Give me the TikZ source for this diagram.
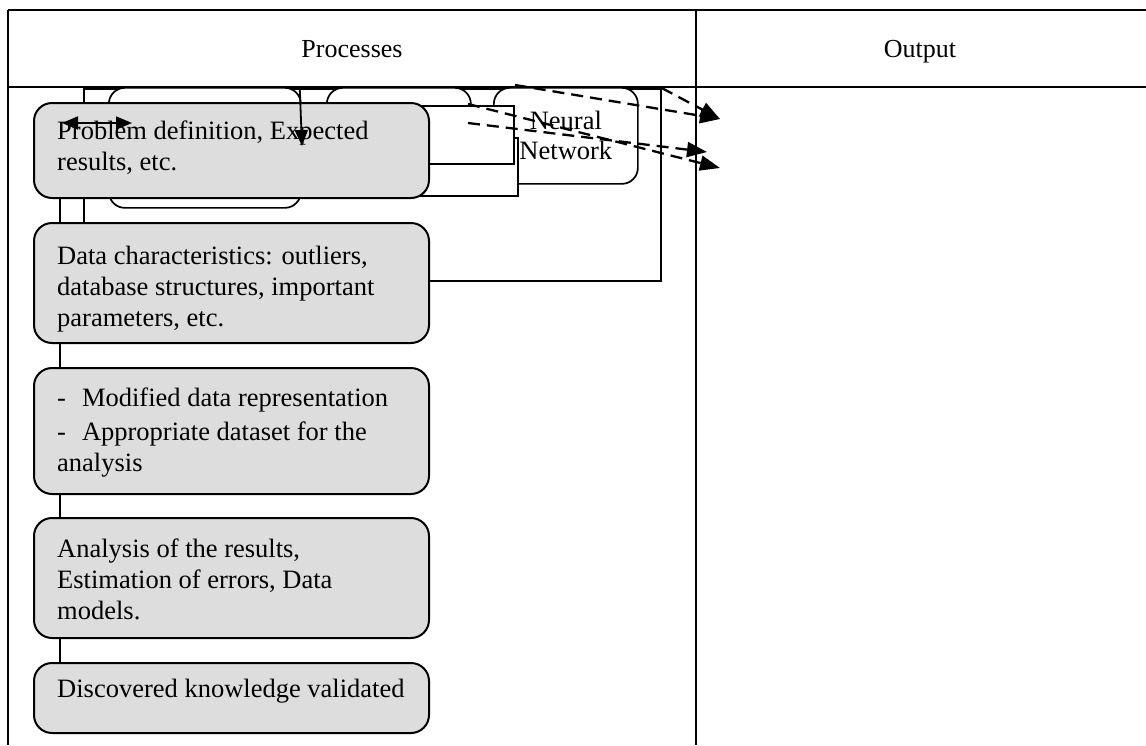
\documentclass[tikz,border=0pt]{standalone}
\usepackage{fontspec}
\setmainfont{Liberation Serif}
\usetikzlibrary{arrows.meta}
\definecolor{boxgray}{RGB}{221,221,221}
\begin{document}
\begin{tikzpicture}[x=1pt,y=-1pt,
  grid/.style={line width=2pt},
  gbox/.style={draw, line width=2pt, fill=boxgray, rounded corners=18pt, inner sep=0pt, anchor=north west},
  wbox/.style={draw, line width=1.7pt, fill=white, rounded corners=16pt, inner sep=0pt, anchor=north west},
  wrect/.style={draw, line width=1.7pt, fill=white, inner sep=0pt, anchor=north west},
  txt/.style={font=\fontsize{26.5}{31}\selectfont, inner sep=0pt, align=left},
  head/.style={font=\fontsize{26}{30}\selectfont, inner sep=0pt, anchor=base},
  link/.style={line width=1.3pt},
  dasharrow/.style={line width=2.3pt, dash pattern=on 12pt off 7pt, -{Triangle[length=20pt,width=15pt]}},
  solidarrow/.style={line width=1.8pt},
]
\useasboundingbox (0,0) rectangle (1146,745);
% table
\draw[grid] (8,10) -- (1146,10);
\draw[grid] (8,87) -- (1146,87);
\draw[grid] (8,10) -- (8,745);
\draw[grid] (696,10) -- (696,745);
\node[head] (hp) at (352,57) {Processes};
\node[head] (ho) at (920,57) {Output};
% background frame
\node[draw, line width=1.7pt, inner sep=0pt, anchor=north west, minimum width=577pt, minimum height=192pt] (frame) at (83,88) {};
% white boxes behind
\node[wbox, minimum width=192pt, minimum height=120pt] (ba) at (108,87) {};
\node[wbox, minimum width=144pt, minimum height=103pt] (bb) at (326,87) {};
\node[wbox, minimum width=144pt, minimum height=96pt, align=center, font=\fontsize{26.5}{30}\selectfont] (nn) at (493,87) {Neural\\Network};
\node[wrect, minimum width=117pt, minimum height=58pt] (rd) at (400,137) {};
\node[wrect, minimum width=113pt, minimum height=58pt] (rc) at (400,105) {};
% dashed arrows
\coordinate (s1) at (515,85);
\coordinate (s3) at (468,123);
\coordinate (s4) at (468,104);
\coordinate (o1) at (720,119);
\coordinate (o2) at (707,152);
\coordinate (o3) at (720,168);
\draw[dasharrow] (s1) -- (o1);
\draw[dasharrow] (frame.north east) -- (o1);
\draw[dasharrow] (s3) -- (o2);
\draw[dasharrow] (s4) -- (o3);
% gray process boxes
\node[gbox, minimum width=395pt, minimum height=95pt] (b1) at (33,102) {};
\node[gbox, minimum width=395pt, minimum height=120pt] (b2) at (33,222) {};
\node[gbox, minimum width=395pt, minimum height=126pt] (b3) at (33,367) {};
\node[gbox, minimum width=395pt, minimum height=120pt] (b4) at (33,517) {};
\node[gbox, minimum width=395pt, minimum height=70pt] (b5) at (33,662) {};
\node[txt, anchor=base west] (t1) at (57,170) {Problem definition, Expected\\results, etc.};
\node[txt, anchor=base west] (t2) at (57,326) {Data characteristics: outliers,\\database structures, important\\parameters, etc.};
\node[txt, anchor=base west] (t3) at (57,471) {-\hspace{16pt}Modified data representation\\[2.6pt]-\hspace{16pt}Appropriate dataset for the\\analysis};
\node[txt, anchor=base west] (t4) at (57,619) {Analysis of the results,\\Estimation of errors, Data\\models.};
\node[txt, anchor=base west] (t5) at (57,697) {Discovered knowledge validated};
% spine links
\coordinate (spine) at (60,0);
\draw[link] (b1.south -| spine) -- (b2.north -| spine);
\draw[link] (b2.south -| spine) -- (b3.north -| spine);
\draw[link] (b3.south -| spine) -- (b4.north -| spine);
\draw[link] (b4.south -| spine) -- (b5.north -| spine);
% solid arrows in first box
\coordinate (h1) at (62,123);
\coordinate (h2) at (132,123);
\draw[solidarrow, {Triangle[length=16pt,width=13pt]}-{Triangle[length=16pt,width=13pt]}] (h1) -- (h2);
\coordinate (dtip) at (302,146);
\draw[solidarrow, -{Triangle[length=16pt,width=13pt]}] ([xshift=-2pt]ba.north east) -- (dtip);
\end{tikzpicture}
\end{document}
